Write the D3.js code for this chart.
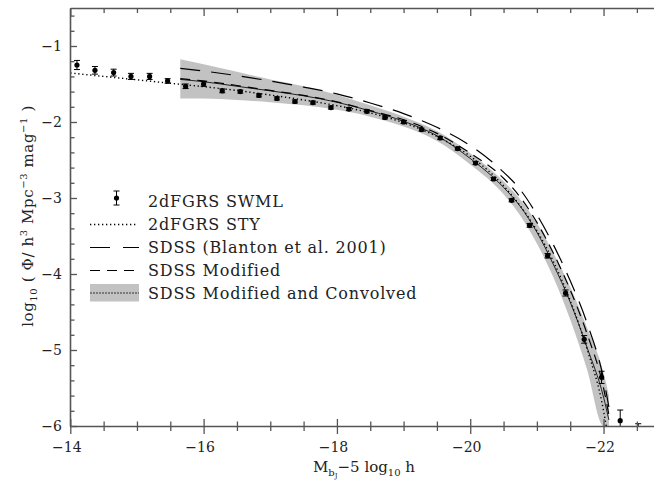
<!DOCTYPE html>
<html><head><meta charset="utf-8">
<script src="https://cdn.jsdelivr.net/npm/d3@7"></script>
<style>body{margin:0;background:#fff} svg{display:block}</style>
</head><body><svg id="c" width="654" height="487"></svg>
<script>
// ---- data ----
const swmlM   = [-14.10,-14.37,-14.65,-14.91,-15.19,-15.46,-15.73,-16.00,-16.28,-16.55,-16.83,-17.10,-17.37,-17.64,-17.91,-18.18,-18.45,-18.72,-19.00,-19.27,-19.55,-19.81,-20.08,-20.35,-20.62,-20.89,-21.16,-21.43,-21.71,-21.97,-22.25,-22.52];
const swmlPhi = [-1.25,-1.32,-1.35,-1.40,-1.40,-1.46,-1.53,-1.50,-1.59,-1.60,-1.65,-1.69,-1.73,-1.745,-1.81,-1.83,-1.86,-1.94,-2.00,-2.10,-2.21,-2.35,-2.54,-2.75,-3.03,-3.36,-3.76,-4.25,-4.86,-5.36,-5.93,-6.30];
const swmlErr = [0.06,0.05,0.045,0.04,0.04,0.03,0.03,0.03,0.025,0.02,0.02,0.02,0.02,0.02,0.02,0.02,0.02,0.02,0.02,0.02,0.02,0.02,0.02,0.02,0.02,0.025,0.03,0.04,0.05,0.08,0.14,0.33];

const styM   = [-14.0,-14.5,-15.0,-15.5,-16.0,-16.5,-17.0,-17.5,-18.0,-18.5,-19.0,-19.5,-20.0,-20.5,-21.0,-21.25,-21.5,-21.75,-22.0,-22.04];
const styPhi = [-1.355,-1.40,-1.445,-1.49,-1.535,-1.585,-1.645,-1.71,-1.785,-1.88,-2.01,-2.19,-2.45,-2.84,-3.43,-3.84,-4.35,-4.98,-5.80,-6.0];

const sdssM     = [-15.65,-16.0,-16.5,-17.0,-17.5,-18.0,-18.5,-19.0,-19.5,-20.0,-20.5,-20.75,-21.0,-21.25,-21.5,-21.75,-22.0,-22.08];
const blantonPhi= [-1.295,-1.33,-1.39,-1.46,-1.54,-1.63,-1.75,-1.89,-2.07,-2.31,-2.66,-2.89,-3.22,-3.62,-4.09,-4.64,-5.38,-5.75];
const modPhi    = [-1.43,-1.46,-1.52,-1.585,-1.65,-1.735,-1.85,-1.97,-2.15,-2.41,-2.74,-2.99,-3.32,-3.73,-4.21,-4.78,-5.50,-5.85];
const convPhi   = [-1.44,-1.47,-1.53,-1.59,-1.655,-1.74,-1.855,-1.99,-2.18,-2.48,-2.86,-3.11,-3.45,-3.88,-4.37,-4.96,-5.62,-5.92];
const bandLo    = [-1.69,-1.69,-1.71,-1.74,-1.78,-1.84,-1.93,-2.06,-2.25,-2.56,-2.95,-3.23,-3.60,-4.05,-4.60,-5.25,-6.00,-6.00];
const bandHi    = [-1.175,-1.24,-1.34,-1.44,-1.53,-1.64,-1.78,-1.93,-2.12,-2.41,-2.78,-3.02,-3.33,-3.73,-4.17,-4.70,-5.30,-5.60];

const xMajor = [-14,-16,-18,-20,-22];
const yMajor = [-6,-5,-4,-3,-2,-1];
const legendLabels = ["2dFGRS SWML","2dFGRS STY","SDSS (Blanton et al. 2001)","SDSS Modified","SDSS Modified and Convolved"];

// ---- scales ----
const L=70, T=8, B=426;
const x = d3.scaleLinear().domain([-14,-23]).range([70.3,670.2]);
const y = d3.scaleLinear().domain([-6,-0.5]).range([B,T]);
const svg = d3.select("#c");
const FONT = "DejaVu Serif";

svg.append("defs").append("clipPath").attr("id","clip")
  .append("rect").attr("x",L).attr("y",T).attr("width",660).attr("height",B-T);

const plot = svg.append("g").attr("clip-path","url(#clip)");

// band
const band = sdssM.map((m,i)=>({m,lo:bandLo[i],hi:bandHi[i]}));
plot.append("path").datum(band)
  .attr("d", d3.area().x(d=>x(d.m)).y0(d=>y(d.lo)).y1(d=>y(d.hi)).curve(d3.curveMonotoneX))
  .attr("fill","#c2c2c2").attr("stroke","none");

const line = d3.line().x(d=>x(d[0])).y(d=>y(d[1])).curve(d3.curveMonotoneX);
const zipS = arr => sdssM.map((m,i)=>[m,arr[i]]);

plot.append("path").datum(zipS(convPhi)).attr("d",line)
  .attr("fill","none").attr("stroke","#222").attr("stroke-width",1);
plot.append("path").datum(zipS(modPhi)).attr("d",line)
  .attr("fill","none").attr("stroke","#000").attr("stroke-width",1.2).attr("stroke-dasharray","10,7");
plot.append("path").datum(zipS(blantonPhi)).attr("d",line)
  .attr("fill","none").attr("stroke","#000").attr("stroke-width",1.2).attr("stroke-dasharray","20,11");
plot.append("path").datum(styM.map((m,i)=>[m,styPhi[i]])).attr("d",line)
  .attr("fill","none").attr("stroke","#000").attr("stroke-width",1.4).attr("stroke-dasharray","1.3,2.7");

// SWML points
const pts = swmlM.map((m,i)=>({m,p:swmlPhi[i],e:swmlErr[i]}));
const pg = plot.append("g").selectAll("g").data(pts).join("g");
pg.append("line").attr("x1",d=>x(d.m)).attr("x2",d=>x(d.m))
  .attr("y1",d=>y(d.p-d.e)).attr("y2",d=>y(d.p+d.e)).attr("stroke","#000").attr("stroke-width",1);
pg.append("line").attr("x1",d=>x(d.m)-3).attr("x2",d=>x(d.m)+3)
  .attr("y1",d=>y(d.p+d.e)).attr("y2",d=>y(d.p+d.e)).attr("stroke","#000").attr("stroke-width",1);
pg.append("line").attr("x1",d=>x(d.m)-3).attr("x2",d=>x(d.m)+3)
  .attr("y1",d=>y(d.p-d.e)).attr("y2",d=>y(d.p-d.e)).attr("stroke","#000").attr("stroke-width",1);
pg.append("circle").attr("cx",d=>x(d.m)).attr("cy",d=>y(d.p)).attr("r",2.6).attr("fill","#000");

// ---- axes ----
const xMinor = d3.range(-14,-23.01,-0.5).filter(v=>!xMajor.includes(v));
const axCol = "#555";

function styleAxis(g){
  g.select(".domain").attr("stroke",axCol).attr("stroke-width",1.6);
  g.selectAll(".tick line").attr("stroke",axCol).attr("stroke-width",1.3);
  g.selectAll("text").attr("font-family",FONT).attr("font-size",14).attr("fill","#222");
}
// bottom major
const gxb = svg.append("g").attr("transform",`translate(0,${B})`)
  .call(d3.axisBottom(x).tickValues(xMajor).tickSize(8).tickSizeOuter(0).tickPadding(8).tickFormat(d3.format("d")));
styleAxis(gxb); gxb.selectAll(".tick line").attr("y1",-7);
gxb.selectAll(".tick text").attr("dx",-4);
const gxbm = svg.append("g").attr("transform",`translate(0,${B})`)
  .call(d3.axisBottom(x).tickValues(xMinor).tickSize(5).tickSizeOuter(0).tickFormat(""));
styleAxis(gxbm); gxbm.select(".domain").remove(); gxbm.selectAll(".tick line").attr("y1",-4.5);
// top
const gxt = svg.append("g").attr("transform",`translate(0,${T})`)
  .call(d3.axisBottom(x).tickValues(xMajor).tickSize(8).tickSizeOuter(0).tickFormat(""));
styleAxis(gxt);
const gxtm = svg.append("g").attr("transform",`translate(0,${T})`)
  .call(d3.axisBottom(x).tickValues(xMinor).tickSize(5).tickSizeOuter(0).tickFormat(""));
styleAxis(gxtm); gxtm.select(".domain").remove();
// left
const gyl = svg.append("g").attr("transform",`translate(${L},0)`)
  .call(d3.axisLeft(y).tickValues(yMajor).tickSize(-7).tickSizeOuter(0).tickPadding(8).tickFormat(d3.format("d")));
styleAxis(gyl);
const yMin2 = d3.range(-5.8,-0.49,0.2).map(v=>+v.toFixed(1)).filter(v=>Math.abs(v-Math.round(v))>1e-6);
const gylm = svg.append("g").attr("transform",`translate(${L},0)`)
  .call(d3.axisLeft(y).tickValues(yMin2).tickSize(-4.5).tickSizeOuter(0).tickFormat(""));
styleAxis(gylm); gylm.select(".domain").remove();

// ---- axis titles ----
const xt = svg.append("text").attr("x",364).attr("y",472).attr("text-anchor","middle")
  .attr("font-family",FONT).attr("font-size",15).attr("fill","#222");
xt.append("tspan").text("M");
xt.append("tspan").attr("font-size",10).attr("dy",4).text("b");
xt.append("tspan").attr("font-size",7).attr("dy",2).text("J");
xt.append("tspan").attr("dy",-6).text("\u22125 log");
xt.append("tspan").attr("font-size",10).attr("dy",4).text("10");
xt.append("tspan").attr("dy",-4).text("  h");

const yt = svg.append("text").attr("transform","translate(33,216) rotate(-90)").attr("text-anchor","middle")
  .attr("font-family",FONT).attr("font-size",15).attr("fill","#222").attr("letter-spacing",0.6);
yt.append("tspan").text("log");
yt.append("tspan").attr("font-size",10).attr("dy",4).text("10");
yt.append("tspan").attr("dy",-4).text(" (  \u03A6/ h");
yt.append("tspan").attr("font-size",10).attr("dy",-6).text("3");
yt.append("tspan").attr("dy",6).text(" Mpc");
yt.append("tspan").attr("font-size",10).attr("dy",-6).text("\u22123");
yt.append("tspan").attr("dy",6).text(" mag");
yt.append("tspan").attr("font-size",10).attr("dy",-6).text("\u22121");
yt.append("tspan").attr("dy",6).text("  )");

// ---- legend ----
const lg = svg.append("g");
const rowY = [201,224.5,247.5,270.5,293];
lg.selectAll("text").data(legendLabels).join("text")
  .attr("x",148).attr("y",(d,i)=>rowY[i]+5.5)
  .attr("font-family",FONT).attr("font-size",16).attr("letter-spacing",0.8).attr("fill","#222")
  .text(d=>d);
lg.append("line").attr("x1",116.5).attr("x2",116.5).attr("y1",rowY[0]-10).attr("y2",rowY[0]+4).attr("stroke","#000");
lg.append("line").attr("x1",113.5).attr("x2",119.5).attr("y1",rowY[0]-10).attr("y2",rowY[0]-10).attr("stroke","#000");
lg.append("line").attr("x1",113.5).attr("x2",119.5).attr("y1",rowY[0]+4).attr("y2",rowY[0]+4).attr("stroke","#000");
lg.append("circle").attr("cx",116.5).attr("cy",rowY[0]-3).attr("r",2.6).attr("fill","#000");
lg.append("line").attr("x1",90).attr("x2",138).attr("y1",rowY[1]).attr("y2",rowY[1])
  .attr("stroke","#000").attr("stroke-width",1.4).attr("stroke-dasharray","1.3,2.7");
lg.append("line").attr("x1",90).attr("x2",139).attr("y1",rowY[2]).attr("y2",rowY[2])
  .attr("stroke","#000").attr("stroke-width",1.2).attr("stroke-dasharray","20,13");
lg.append("line").attr("x1",90).attr("x2",137).attr("y1",rowY[3]).attr("y2",rowY[3])
  .attr("stroke","#000").attr("stroke-width",1.2).attr("stroke-dasharray","10,7");
lg.append("rect").attr("x",90).attr("y",rowY[4]-9).attr("width",49).attr("height",17.5).attr("fill","#c2c2c2");
lg.append("line").attr("x1",90).attr("x2",139).attr("y1",rowY[4]).attr("y2",rowY[4])
  .attr("stroke","#333").attr("stroke-width",1).attr("stroke-dasharray","2,1");
</script></body></html>
